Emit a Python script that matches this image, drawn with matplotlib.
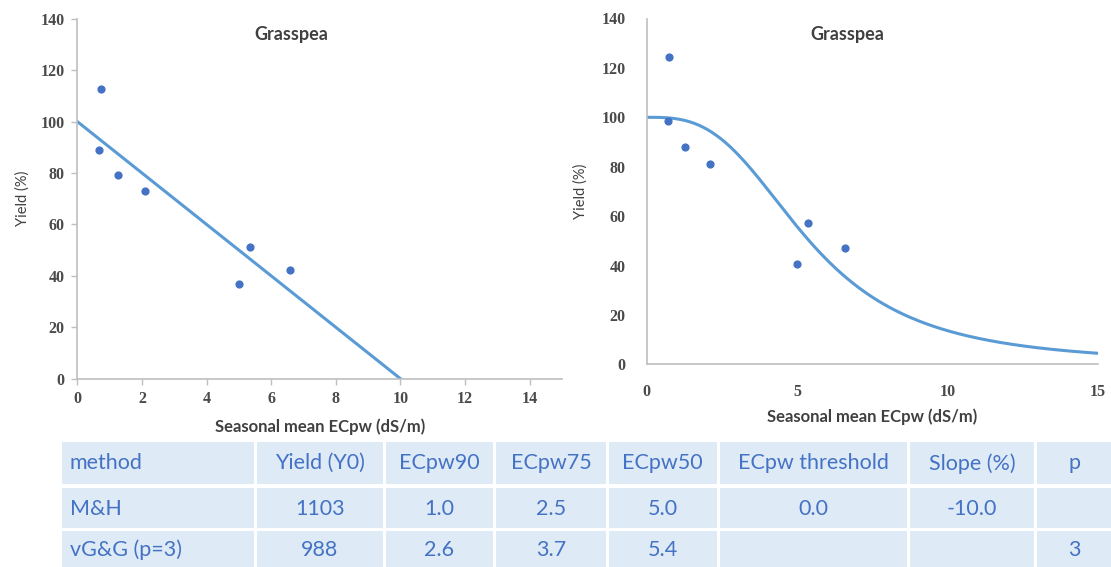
import numpy as np
import matplotlib
matplotlib.use("Agg")
import matplotlib.pyplot as plt
from matplotlib.patches import Rectangle
from matplotlib.font_manager import FontProperties

W, H = 1111, 567

# observed yields (relative, %) for each fit
ec_obs = [0.73, 0.68, 1.27, 2.08, 4.99, 5.35, 6.58]
yield_mh = [112.5, 88.9, 79.3, 73.1, 36.9, 51.2, 42.3]
ec_obs_vg = [0.75, 0.70, 1.28, 2.10, 4.99, 5.37, 6.58]
yield_vg = [124.6, 98.7, 87.9, 80.9, 40.5, 57.2, 47.1]

# fitted parameters
mh_threshold = 0.0
mh_slope = -10.0
vg_ec50 = 5.4
vg_p = 3

header = ["method", "Yield (Y0)", "ECpw90", "ECpw75", "ECpw50",
          "ECpw threshold", "Slope (%)", "p"]
row_mh = ["M&H", "1103", "1.0", "2.5", "5.0", "0.0", "-10.0", ""]
row_vg = ["vG&G (p=3)", "988", "2.6", "3.7", "5.4", "", "", "3"]

blue_pt = "#4472C4"
blue_ln = "#5B9BD5"
grey_ax = "#BFBFBF"
txt = "#404040"
tick_fp = FontProperties(family="Liberation Serif", weight="bold", size=11.5)


def px_axes(fig, x0, x1, y0, y1):
    # axes placed by pixel box (top-left origin)
    return fig.add_axes([x0 / W, 1 - y1 / H, (x1 - x0) / W, (y1 - y0) / H])


def style(ax, ticks_on):
    for s in ["top", "right"]:
        ax.spines[s].set_visible(False)
    for s in ["left", "bottom"]:
        ax.spines[s].set_color(grey_ax)
        ax.spines[s].set_linewidth(1.2)
    if ticks_on:
        ax.tick_params(length=4, color=grey_ax, width=1.0)
    else:
        ax.tick_params(length=0)
    for lab in ax.get_xticklabels() + ax.get_yticklabels():
        lab.set_fontproperties(tick_fp)
        lab.set_color("#4a4a4a")


fig = plt.figure(figsize=(W / 100, H / 100), dpi=100)

# left: Maas & Hoffman linear model
ax1 = px_axes(fig, 77.3, 562, 18.7, 378.7)
ax1.scatter(ec_obs, yield_mh, s=24, color=blue_pt, zorder=3)
x_end = mh_threshold + 100 / abs(mh_slope)
xl = np.array([0, x_end])
yl = np.where(xl <= mh_threshold, 100, 100 + mh_slope * (xl - mh_threshold))
ax1.plot(xl, yl, color=blue_ln, lw=2.2)
ax1.set_xlim(0, 15)
ax1.set_ylim(0, 140)
ax1.set_xticks(range(0, 15, 2))
ax1.set_yticks(range(0, 141, 20))
ax1.tick_params(pad=5)
style(ax1, True)
ax1.text(0.442, 0.957, "Grasspea", transform=ax1.transAxes, ha="center",
         va="center", family="Lato", weight="bold", fontsize=13, color=txt)
ax1.set_xlabel("Seasonal mean ECpw (dS/m)", family="Lato", weight="bold",
               fontsize=12, color=txt, labelpad=8)
ax1.set_ylabel("Yield (%)", family="Lato", fontsize=10.5, color=txt, labelpad=8)

# right: van Genuchten & Gupta model
ax2 = px_axes(fig, 646.7, 1098, 18.5, 364.3)
ax2.scatter(ec_obs_vg, yield_vg, s=24, color=blue_pt, zorder=3)
xc = np.linspace(0, 15, 300)
ax2.plot(xc, 100 / (1 + (xc / vg_ec50) ** vg_p), color=blue_ln, lw=2.2)
ax2.set_xlim(0, 15)
ax2.set_ylim(0, 140)
ax2.set_xticks([0, 5, 10, 15])
ax2.set_yticks(range(0, 141, 20))
ax2.tick_params(axis="x", pad=14)
ax2.tick_params(axis="y", pad=15)
style(ax2, False)
ax2.text(0.444, 0.955, "Grasspea", transform=ax2.transAxes, ha="center",
         va="center", family="Lato", weight="bold", fontsize=13, color=txt)
ax2.set_xlabel("Seasonal mean ECpw (dS/m)", family="Lato", weight="bold",
               fontsize=12, color=txt, labelpad=6)
ax2.set_ylabel("Yield (%)", family="Lato", fontsize=10.5, color=txt, labelpad=10)

# summary table drawn in pixel space
axt = fig.add_axes([0, 0, 1, 1], zorder=-1)
axt.set_xlim(0, W)
axt.set_ylim(H, 0)
axt.axis("off")
col_edges = [61.7, 255.7, 384, 494.7, 607.3, 718.3, 908.7, 1035.3, 1114]
row_edges = [(442.3, 484), (488.3, 528.3), (530.7, 570)]
row_mid = [463.3, 509, 550]
for r, cells in enumerate([header, row_mh, row_vg]):
    y0, y1 = row_edges[r]
    for c, val in enumerate(cells):
        x0 = col_edges[c] + (0 if c == 0 else 1.5)
        x1 = col_edges[c + 1] - 1.5
        axt.add_patch(Rectangle((x0, y0), x1 - x0, y1 - y0,
                                facecolor="#DEEAF6", edgecolor="none"))
        if c == 0:
            axt.text(x0 + 8, row_mid[r], val, ha="left", va="center",
                     family="Lato", fontsize=15.5, color=blue_pt)
        else:
            axt.text((x0 + x1) / 2, row_mid[r], val, ha="center", va="center",
                     family="Lato", fontsize=15.5, color=blue_pt)

fig.savefig("out.png", dpi=100)
